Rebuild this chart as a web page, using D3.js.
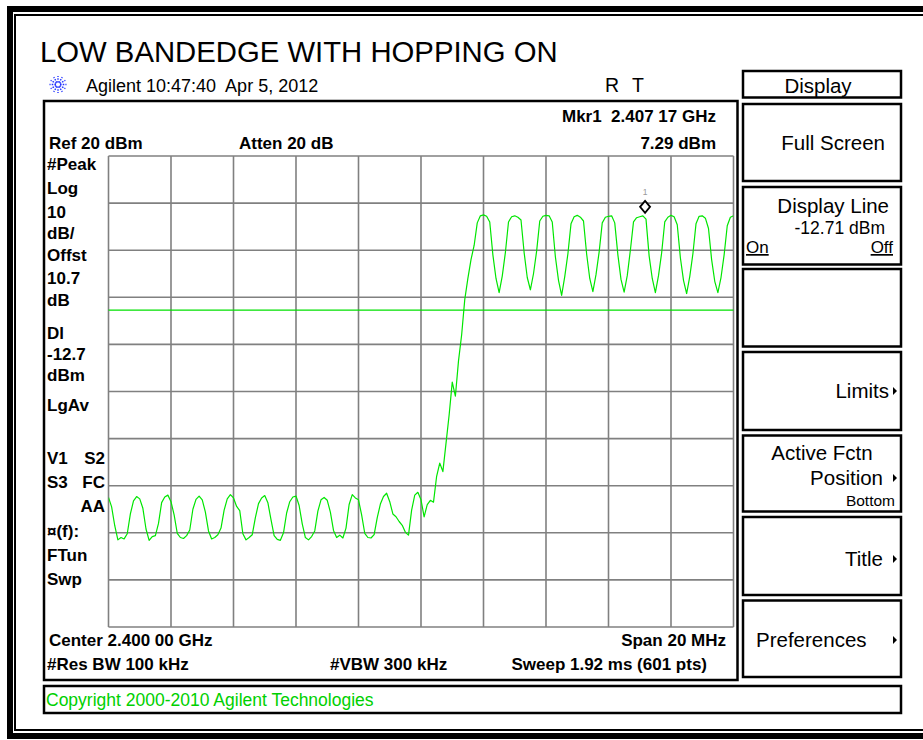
<!DOCTYPE html>
<html><head><meta charset="utf-8">
<script src="https://cdn.jsdelivr.net/npm/d3@7/dist/d3.min.js"></script>
<style>
body{margin:0;background:#fff}
svg{display:block}
text{font-family:"Liberation Sans",Arial,sans-serif;white-space:pre}
</style>
</head><body>
<svg id="c" width="923" height="740"></svg>
<script>
// ---------- data ----------
const titleText = "LOW BANDEDGE WITH HOPPING ON";
const headerText = "Agilent 10:47:40  Apr 5, 2012";
const centerGHz = 2.400;
const spanMHz = 20;
const refLevelDbm = 20;
const dbPerDiv = 10;
const displayLineDbm = -12.71;
const markerGHz = 2.40717;
const markerDbm = 7.29;
const traceStepMHz = 0.1;
// trace levels (dBm), one per 0.1 MHz from 2.390 GHz to 2.410 GHz
const traceDbm = [
 -52.5,-54.5,-58.5,-61.5,-61.0,-61.3,-60.2,-56.0,-53.2,-52.3,
 -52.8,-54.8,-59.2,-61.6,-60.8,-60.6,-58.0,-53.6,-52.4,-52.0,
 -53.4,-56.2,-60.1,-61.0,-61.2,-60.6,-59.4,-55.0,-52.9,-52.2,
 -53.0,-55.6,-59.6,-61.3,-61.0,-60.4,-59.0,-55.2,-52.8,-51.9,
 -52.6,-54.4,-55.3,-60.2,-61.5,-61.0,-60.4,-56.8,-53.8,-52.6,
 -52.1,-53.6,-57.2,-60.6,-61.4,-61.6,-60.0,-55.8,-53.4,-52.4,
 -52.2,-54.2,-58.1,-61.0,-61.5,-60.8,-59.6,-55.4,-53.0,-52.5,
 -53.1,-55.6,-59.5,-61.0,-60.5,-61.1,-59.0,-54.0,-51.9,-52.6,
 -53.0,-56.2,-60.1,-61.0,-61.1,-60.4,-56.8,-53.9,-52.3,-51.6,
 -53.4,-56.0,-56.6,-57.6,-58.4,-59.9,-60.5,-55.2,-52.0,-51.4,
 -53.0,-56.6,-54.0,-53.1,-53.5,-48.0,-45.2,-47.0,-41.0,-35.0,
 -28.0,-31.0,-23.5,-18.0,-10.5,-6.0,-2.0,1.0,5.8,7.3,
 7.5,7.2,6.0,-1.0,-6.0,-9.0,-5.5,-0.5,6.0,7.1,
 7.3,7.0,6.4,-0.5,-5.8,-8.4,-5.0,-0.2,6.2,7.2,
 7.4,7.3,6.0,-1.4,-6.4,-9.6,-5.6,-0.8,5.6,7.1,
 7.4,7.0,6.2,-0.8,-6.0,-8.8,-5.2,-0.4,5.8,7.0,
 7.2,7.3,5.8,-1.0,-6.2,-8.9,-5.4,0.0,6.0,6.9,
 7.1,7.29,6.6,-1.2,-6.0,-9.0,-5.4,-0.6,6.0,7.0,
 7.4,7.1,5.4,-1.6,-6.4,-9.2,-5.6,-0.8,5.6,7.2,
 7.3,6.8,4.6,-2.0,-6.6,-9.0,-5.8,-1.0,5.2,7.0,
 7.3
];
const leftLabelsTop = ["#Peak","Log","10","dB/","Offst","10.7","dB","Dl","-12.7","dBm","LgAv"];
const leftLabelsTopY = [170,194,218,239,261,284,306,339,360,381,411];
const leftLabelsBottom = [["V1","S2"],["S3","FC"],["","AA"],["¤(f):",""],["FTun",""],["Swp",""]];
const leftLabelsBottomY = [464,488,512,537,561,585];
const softkeys = ["Full Screen","Display Line","","Limits","Active Fctn","Title","Preferences"];

// ---------- layout ----------
const svg = d3.select("#c");
const X0 = 108.5, X1 = 733.5, Y0 = 156, Y1 = 627;
const startGHz = centerGHz - spanMHz/2000, stopGHz = centerGHz + spanMHz/2000;
const x = d3.scaleLinear().domain([startGHz, stopGHz]).range([X0, X1]);
const y = d3.scaleLinear().domain([refLevelDbm - 10*dbPerDiv, refLevelDbm]).range([Y1, Y0]);

svg.append("rect").attr("width",923).attr("height",740).attr("fill","#fff");

// outer frames
svg.append("rect").attr("x",10).attr("y",9).attr("width",1000).attr("height",727)
  .attr("fill","none").attr("stroke","#000").attr("stroke-width",6);
svg.append("rect").attr("x",15).attr("y",15).attr("width",1000).attr("height",715)
  .attr("fill","none").attr("stroke","#000").attr("stroke-width",2);

// title
svg.append("text").attr("x",40).attr("y",61.5).attr("font-size",29.3).attr("fill","#000").text(titleText);

// agilent icon
const ic = svg.append("g").attr("transform","translate(58,84.5)");
for (let k=0;k<12;k++){
  const a = k*Math.PI/6;
  ic.append("line").attr("x1",Math.cos(a)*2).attr("y1",Math.sin(a)*2)
    .attr("x2",Math.cos(a)*8.5).attr("y2",Math.sin(a)*8.5)
    .attr("stroke","#2233ff").attr("stroke-width",1.4).attr("stroke-dasharray","1.6,1.1");
}
svg.append("text").attr("x",86).attr("y",91.5).attr("font-size",18).attr("fill","#000").text(headerText);
svg.append("text").attr("x",605).attr("y",92).attr("font-size",19.5).text("R");
svg.append("text").attr("x",632).attr("y",92).attr("font-size",19.5).text("T");

// graph frame
svg.append("rect").attr("x",44).attr("y",101).attr("width",693.5).attr("height",579)
  .attr("fill","none").attr("stroke","#000").attr("stroke-width",2.5);

// text in graph frame
const bold = (xx,yy,t,anchor)=>svg.append("text").attr("x",xx).attr("y",yy)
  .attr("font-size",17).attr("font-weight","bold").attr("text-anchor",anchor||"start").attr("fill","#000").text(t);
bold(716,122,"Mkr1  2.407 17 GHz","end");
bold(716,149,markerDbm.toFixed(2)+" dBm","end");
bold(49,149,"Ref "+refLevelDbm+" dBm");
bold(239,149,"Atten 20 dB");
leftLabelsTop.forEach((t,i)=>bold(47,leftLabelsTopY[i],t));
leftLabelsBottom.forEach((p,i)=>{ if(p[0]) bold(47,leftLabelsBottomY[i],p[0]); if(p[1]) bold(105,leftLabelsBottomY[i],p[1],"end"); });
bold(49,646,"Center 2.400 00 GHz");
bold(726,646,"Span "+spanMHz+" MHz","end");
bold(47,670,"#Res BW 100 kHz");
bold(330,670,"#VBW 300 kHz");
bold(707,670,"Sweep 1.92 ms (601 pts)","end");

// grid
const g = svg.append("g");
const xt = d3.range(11).map(i=>startGHz + i*(stopGHz-startGHz)/10);
const yt = d3.range(11).map(i=>refLevelDbm - i*dbPerDiv);
g.selectAll(".vx").data(xt).join("line").attr("x1",d=>x(d)).attr("x2",d=>x(d)).attr("y1",Y0).attr("y2",Y1)
  .attr("stroke","#808080").attr("stroke-width",1.6);
g.selectAll(".hy").data(yt).join("line").attr("x1",X0).attr("x2",X1).attr("y1",d=>y(d)).attr("y2",d=>y(d))
  .attr("stroke","#808080").attr("stroke-width",1.6);

// clip
svg.append("clipPath").attr("id","pc").append("rect").attr("x",X0).attr("y",Y0).attr("width",X1-X0).attr("height",Y1-Y0);

// display line
svg.append("line").attr("x1",X0).attr("x2",X1).attr("y1",y(displayLineDbm)).attr("y2",y(displayLineDbm))
  .attr("stroke","#00e000").attr("stroke-width",1.3);

// trace
const line = d3.line().x((d,i)=>x(startGHz + i*traceStepMHz/1000)).y(d=>y(d));
svg.append("path").datum(traceDbm).attr("d",line).attr("clip-path","url(#pc)")
  .attr("fill","none").attr("stroke","#00e600").attr("stroke-width",1.2).attr("stroke-linejoin","round");

// marker
const mx = x(markerGHz), my = y(markerDbm) - 9;
svg.append("path").attr("d",`M${mx},${my-6}L${mx+5},${my}L${mx},${my+6}L${mx-5},${my}Z`)
  .attr("fill","#fff").attr("stroke","#000").attr("stroke-width",1.8);
svg.append("text").attr("x",mx).attr("y",my-12).attr("font-size",8.5).attr("text-anchor","middle").attr("fill","#999").text("1");

// right panel
const box = (y0,y1)=>svg.append("rect").attr("x",743).attr("y",y0).attr("width",158).attr("height",y1-y0)
  .attr("fill","none").attr("stroke","#000").attr("stroke-width",2.5);
box(71,97.5);
const boxes = [[104,181],[187,264.5],[269,346.5],[352,430],[435.5,511.5],[517,595],[600.5,677]];
boxes.forEach(b=>box(b[0],b[1]));
svg.append("rect").attr("x",44).attr("y",686).attr("width",857).attr("height",27)
  .attr("fill","none").attr("stroke","#000").attr("stroke-width",2.5);

const reg = (xx,yy,t,size,anchor)=>svg.append("text").attr("x",xx).attr("y",yy)
  .attr("font-size",size).attr("text-anchor",anchor||"start").attr("fill","#000").text(t);
const arrow = (yy)=>svg.append("path").attr("d",`M893,${yy-4}L897,${yy}L893,${yy+4}Z`).attr("fill","#000");
reg(818,93,"Display",20.5,"middle");
reg(885,150,softkeys[0],20.5,"end");
reg(889,213,softkeys[1],20.5,"end");
reg(885,234,displayLineDbm.toFixed(2)+" dBm",17.5,"end");
reg(746,253,"On",17,"start").attr("text-decoration","underline");
reg(893,253,"Off",17,"end").attr("text-decoration","underline");
reg(889,398,softkeys[3],20.5,"end"); arrow(391);
reg(822,460,softkeys[4],20.5,"middle");
reg(883,485,"Position",20.5,"end"); arrow(478);
reg(895,506,"Bottom",15.5,"end");
reg(883,566,softkeys[5],20.5,"end"); arrow(559);
reg(756,647,softkeys[6],20.5,"start"); arrow(640);

svg.append("text").attr("x",46).attr("y",706).attr("font-size",17.5).attr("fill","#00d000")
  .text("Copyright 2000-2010 Agilent Technologies");
</script>
</body></html>
